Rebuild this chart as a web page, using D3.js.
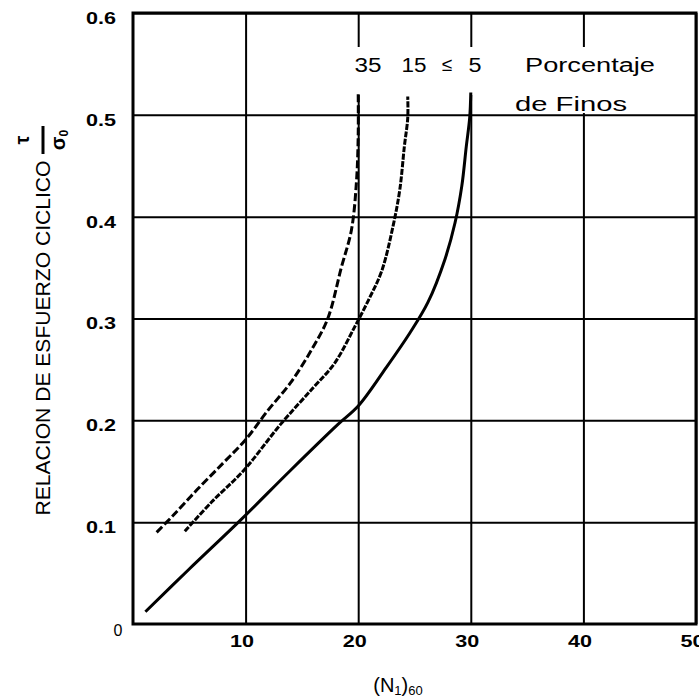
<!DOCTYPE html>
<html>
<head>
<meta charset="utf-8">
<script src="https://cdn.jsdelivr.net/npm/d3@7"></script>
<style>
  body { margin: 0; background: #fff; }
  svg { display: block; }
</style>
</head>
<body>
<div id="chart"></div>
<script>
// tick values of both axes
var xTicks = [10, 20, 30, 40, 50];
var yTicks = [0.1, 0.2, 0.3, 0.4, 0.5, 0.6];

// curves: [ (N1)60 , stress ratio ]
var fines35 = [[2.1, 0.09], [3.6, 0.107], [5.7, 0.132], [8, 0.158], [10, 0.181], [12, 0.21],
  [14, 0.237], [16, 0.272], [17.3, 0.3], [18.5, 0.35], [19.4, 0.387], [19.85, 0.435],
  [20, 0.48], [20, 0.522]];
var fines15 = [[4.6, 0.091], [7, 0.12], [9.85, 0.151], [13.1, 0.196], [16, 0.232], [17.9, 0.256],
  [19.7, 0.292], [21, 0.32], [22.1, 0.347], [23.1, 0.391], [23.7, 0.427], [24.1, 0.469],
  [24.4, 0.497], [24.4, 0.518]];
var fines5 = [[1.1, 0.012], [5, 0.054], [9.55, 0.102], [14, 0.151], [18.2, 0.196], [20, 0.214],
  [22.5, 0.252], [24.6, 0.286], [26.2, 0.316], [27.7, 0.358], [28.6, 0.394], [29.2, 0.43],
  [29.6, 0.469], [29.9, 0.497], [30, 0.522]];

// legend labels above the curves
var legendLabels = ["35", "15", "5"];

var svgWidth = 699;
var svgHeight = 700;
var margin = { top: 13, right: 3, bottom: 76, left: 133 };
var width = svgWidth - margin.left - margin.right;
var height = svgHeight - margin.top - margin.bottom;

var svg = d3.select("#chart")
  .append("svg")
  .attr("width", svgWidth)
  .attr("height", svgHeight);

var chartGroup = svg.append("g")
  .attr("transform", `translate(${margin.left}, ${margin.top})`);

var xScale = d3.scaleLinear().domain([0, 50]).range([0, width]);
var yScale = d3.scaleLinear().domain([0, 0.6]).range([height, 0]);

// vertical grid + x labels
var bottomAxis = d3.axisBottom(xScale)
  .tickValues(xTicks)
  .tickSize(-height)
  .tickPadding(11)
  .tickFormat(d3.format("d"));

var xg = chartGroup.append("g")
  .attr("transform", `translate(0, ${height})`)
  .call(bottomAxis);
xg.select(".domain").remove();
xg.selectAll(".tick line").attr("stroke", "#000").attr("stroke-width", 2);
xg.selectAll(".tick text")
  .attr("font-family", "Liberation Sans, Arial, sans-serif")
  .attr("font-size", 17)
  .attr("font-weight", "bold")
  .attr("fill", "#000")
  .attr("dx", -4)
  .attr("textLength", 24)
  .attr("lengthAdjust", "spacingAndGlyphs");

// horizontal grid + y labels
var leftAxis = d3.axisLeft(yScale)
  .tickValues(yTicks)
  .tickSize(-width)
  .tickPadding(17)
  .tickFormat(d3.format(".1f"));

var yg = chartGroup.append("g").call(leftAxis);
yg.select(".domain").remove();
yg.selectAll(".tick line").attr("stroke", "#000").attr("stroke-width", 2);
yg.selectAll(".tick text")
  .attr("font-family", "Liberation Sans, Arial, sans-serif")
  .attr("font-size", 17)
  .attr("font-weight", "bold")
  .attr("fill", "#000")
  .attr("y", 5)
  .attr("textLength", 30)
  .attr("lengthAdjust", "spacingAndGlyphs");

// the lone zero at the corner
chartGroup.append("text")
  .attr("x", -15)
  .attr("y", height + 12)
  .attr("text-anchor", "middle")
  .attr("font-family", "Liberation Sans, Arial, sans-serif")
  .attr("font-size", 16)
  .text("0");

// frame
chartGroup.append("rect")
  .attr("x", 0).attr("y", 0)
  .attr("width", width).attr("height", height)
  .attr("fill", "none")
  .attr("stroke", "#000")
  .attr("stroke-width", 3);

// white patch behind the legend text
chartGroup.append("rect")
  .attr("x", xScale(18.4)).attr("y", 34)
  .attr("width", xScale(47) - xScale(18.4)).attr("height", 48)
  .attr("fill", "#fff");
chartGroup.append("rect")
  .attr("x", xScale(33)).attr("y", 80)
  .attr("width", xScale(44.5) - xScale(33)).attr("height", 20)
  .attr("fill", "#fff");

var line = d3.line()
  .x(d => xScale(d[0]))
  .y(d => yScale(d[1]))
  .curve(d3.curveCatmullRom.alpha(0.5));

chartGroup.append("path")
  .datum(fines35)
  .attr("d", line)
  .attr("fill", "none")
  .attr("stroke", "#000")
  .attr("stroke-width", 3)
  .attr("stroke-dasharray", "8,3");

chartGroup.append("path")
  .datum(fines15)
  .attr("d", line)
  .attr("fill", "none")
  .attr("stroke", "#000")
  .attr("stroke-width", 3)
  .attr("stroke-dasharray", "6,1.5");

chartGroup.append("path")
  .datum(fines5)
  .attr("d", line)
  .attr("fill", "none")
  .attr("stroke", "#000")
  .attr("stroke-width", 3);

// legend
var legendFont = "Liberation Sans, Arial, sans-serif";
var legendX = [368, 414, 475];
var legendW = [27, 25, 13];
svg.selectAll(".legendLabel")
  .data(legendLabels)
  .enter()
  .append("text")
  .attr("class", "legendLabel")
  .attr("x", (d, i) => legendX[i])
  .attr("y", 72)
  .attr("text-anchor", "middle")
  .attr("font-family", legendFont)
  .attr("font-size", 20)
  .attr("textLength", (d, i) => legendW[i])
  .attr("lengthAdjust", "spacingAndGlyphs")
  .text(d => d);

// the "less or equal" sign before the 5
svg.append("text")
  .attr("x", 447).attr("y", 71)
  .attr("text-anchor", "middle")
  .attr("font-family", legendFont)
  .attr("font-size", 19)
  .text("\u2264");

svg.append("text")
  .attr("x", 525).attr("y", 72)
  .attr("font-family", legendFont)
  .attr("font-size", 20)
  .attr("textLength", 130)
  .attr("lengthAdjust", "spacingAndGlyphs")
  .text("Porcentaje");

svg.append("text")
  .attr("x", 515).attr("y", 111)
  .attr("font-family", legendFont)
  .attr("font-size", 20)
  .attr("textLength", 112)
  .attr("lengthAdjust", "spacingAndGlyphs")
  .text("de Finos");

// y title
svg.append("text")
  .attr("transform", "translate(50, 338) rotate(-90)")
  .attr("text-anchor", "middle")
  .attr("font-family", legendFont)
  .attr("font-size", 20)
  .attr("textLength", 355)
  .attr("lengthAdjust", "spacingAndGlyphs")
  .text("RELACION DE ESFUERZO CICLICO");

// fraction tau / sigma0 on top of the y title
var frac = svg.append("g")
  .attr("transform", "translate(43, 140) rotate(-90)");
frac.append("text")
  .attr("x", 0).attr("y", -14)
  .attr("text-anchor", "middle")
  .attr("font-family", legendFont)
  .attr("font-size", 20)
  .attr("font-weight", "bold")
  .text("\u03c4");
frac.append("line")
  .attr("x1", -14).attr("x2", 14)
  .attr("y1", 0).attr("y2", 0)
  .attr("stroke", "#000")
  .attr("stroke-width", 3);
var den = frac.append("text")
  .attr("x", 0).attr("y", 22)
  .attr("text-anchor", "middle")
  .attr("font-family", legendFont)
  .attr("font-size", 20)
  .attr("font-weight", "bold");
den.append("tspan").text("\u03c3");
den.append("tspan").attr("font-size", 12).attr("dy", 3).text("0");

// x title (N1)60
var xt = svg.append("text")
  .attr("x", 398).attr("y", 692)
  .attr("text-anchor", "middle")
  .attr("font-family", legendFont)
  .attr("font-size", 20);
xt.append("tspan").text("(N");
xt.append("tspan").attr("font-size", 13).attr("dy", 3).text("1");
xt.append("tspan").attr("dy", -3).text(")");
xt.append("tspan").attr("font-size", 13).attr("dy", 3).text("60");
</script>
</body>
</html>
